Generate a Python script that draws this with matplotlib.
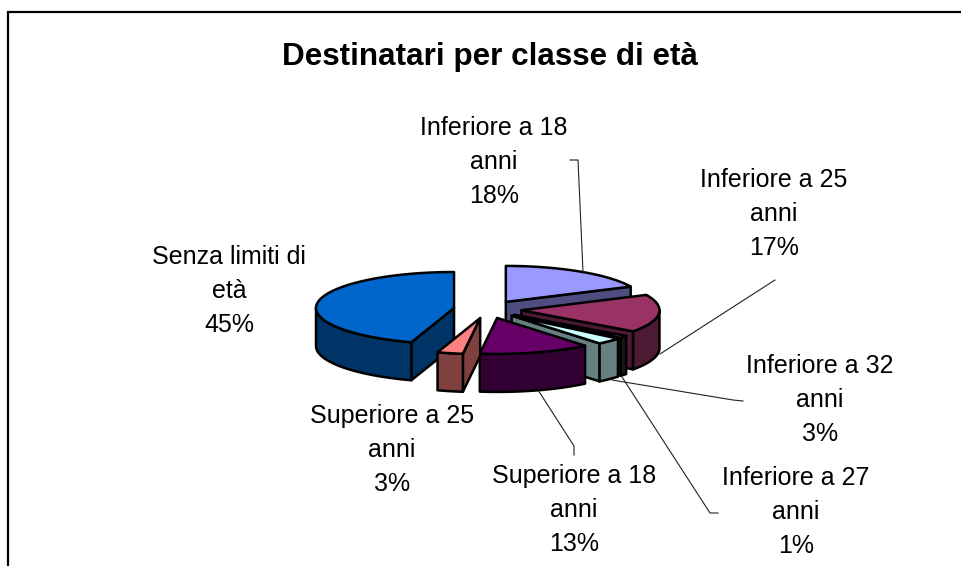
import numpy as np
import matplotlib
matplotlib.use("Agg")
import matplotlib.pyplot as plt
from matplotlib.patches import Polygon

plt.rcParams['font.family'] = ['Liberation Sans', 'DejaVu Sans']

# ------------------------------------------------------------------------------
# data
title = "Destinatari per classe di età"
categories = ["Inferiore a 18 anni", "Inferiore a 25 anni", "Inferiore a 27 anni",
              "Inferiore a 32 anni", "Superiore a 18 anni", "Superiore a 25 anni",
              "Senza limiti di età"]
values = [18, 17, 1, 3, 13, 3, 45]
top_colors = ['#9999FF', '#993366', '#FFFFCC', '#CCFFFF', '#660066', '#FF8080', '#0066CC']
side_colors = ['#4D4D80', '#4D1A33', '#1A1A14', '#668080', '#330033', '#804040', '#003366']

# label position (pixels) and leader line per slice
label_pos = [(494, 162), (774, 214), (796, 512), (820, 400), (574, 510), (392, 450), (229, 291)]
label_text = ["Inferiore a 18\nanni\n18%", "Inferiore a 25\nanni\n17%", "Inferiore a 27\nanni\n1%",
              "Inferiore a 32\nanni\n3%", "Superiore a 18\nanni\n13%", "Superiore a 25\nanni\n3%",
              "Senza limiti di\netà\n45%"]
leaders = [[(570, 160), (578, 160), (583, 272)],
           [(775, 280), (660, 354)],
           [(718, 513), (710, 513), (622, 377)],
           [(743, 401), (733, 400), (612, 380)],
           [(574, 455), (574, 446), (538, 390)]]

# pie geometry in pixels
cx, cy = 487.6, 309.4
rx, ry = 138, 36
depth = 38
explode = 34


def rim(angle, x0, y0):
    # angle is clockwise from twelve o'clock, in degrees
    a = np.radians(angle)
    return x0 + rx * np.sin(a), y0 - ry * np.cos(a)


def draw_slice(ax, a0, a1, top_c, side_c):
    mid = np.radians((a0 + a1) / 2)
    x0 = cx + explode * np.sin(mid)
    y0 = cy - explode * ry / rx * np.cos(mid)
    style = dict(edgecolor='black', linewidth=1.8, joinstyle='round')

    # radial walls, only the ones facing the viewer
    if np.sin(np.radians(a0)) < -1e-6:
        px, py = rim(a0, x0, y0)
        ax.add_patch(Polygon([(x0, y0), (px, py), (px, py + depth), (x0, y0 + depth)],
                             facecolor=side_c, **style))
    if np.sin(np.radians(a1)) > 1e-6:
        px, py = rim(a1, x0, y0)
        ax.add_patch(Polygon([(x0, y0), (px, py), (px, py + depth), (x0, y0 + depth)],
                             facecolor=side_c, **style))

    # outer wall, the front half of the rim only
    lo, hi = max(a0, 90), min(a1, 270)
    if hi > lo:
        t = np.linspace(lo, hi, 60)
        upper = [rim(v, x0, y0) for v in t]
        lower = [(x, y + depth) for x, y in upper][::-1]
        ax.add_patch(Polygon(upper + lower, facecolor=side_c, **style))

    # top face
    t = np.linspace(a0, a1, 120)
    ax.add_patch(Polygon([(x0, y0)] + [rim(v, x0, y0) for v in t],
                         facecolor=top_c, **style))


# ------------------------------------------------------------------------------
# drawing
fig = plt.figure(figsize=(9.61, 5.66), dpi=100)
ax = fig.add_axes([0, 0, 1, 1])
ax.set_xlim(0, 961)
ax.set_ylim(566, 0)
ax.axis('off')

# chart frame
ax.plot([8, 8, 961], [566, 12, 12], color='black', linewidth=1.6, solid_joinstyle='miter')

ax.text(490.5, 57, title, fontsize=22.6, fontweight='bold', ha='center', va='center')

# leaders first: the slices cover their ends
for pts in leaders:
    xs, ys = zip(*pts)
    ax.plot(xs, ys, color='#222222', linewidth=0.8)

edges = np.cumsum([0] + values) * 3.6
slices = []
for i in range(len(values)):
    mid = np.radians((edges[i] + edges[i + 1]) / 2)
    slices.append((-np.cos(mid), i))
for _, i in sorted(slices):
    draw_slice(ax, edges[i], edges[i + 1], top_colors[i], side_colors[i])

for (x, y), txt in zip(label_pos, label_text):
    ax.text(x, y, txt, fontsize=18, ha='center', va='center', linespacing=1.55)

fig.savefig("out.png", dpi=100)
